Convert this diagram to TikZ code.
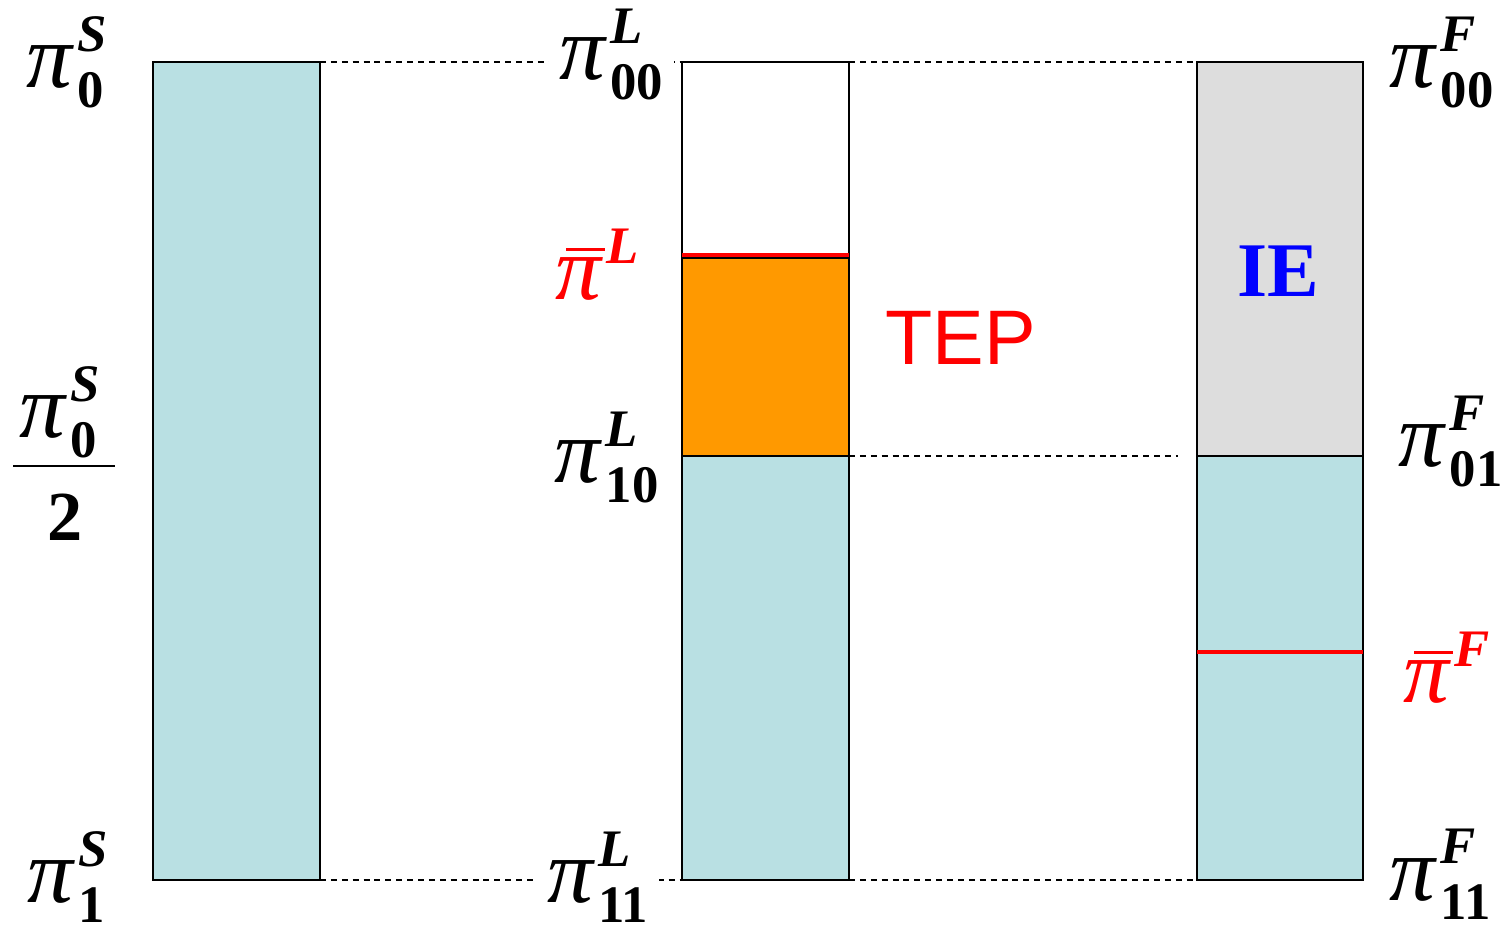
\documentclass[tikz,border=0pt]{standalone}
\usepackage{fontspec}
\setmainfont{Liberation Serif}
\newfontfamily\tepfont{Liberation Sans}
\usetikzlibrary{positioning}
\definecolor{barcyan}{RGB}{185,224,227}
\definecolor{barorange}{RGB}{255,153,0}
\definecolor{bargray}{RGB}{221,221,221}
\newcommand{\pifont}{\fontsize{26}{28}\selectfont\itshape}
\newcommand{\idxfont}{\fontsize{15}{17}\selectfont\bfseries}
\newcommand{\pilab}[2]{{\pifont π}\kern1.5pt\rlap{\raisebox{10.5pt}{\idxfont\itshape #1}}\raisebox{-5.5pt}{\idxfont #2}}
\newcommand{\pibar}[1]{{\pifont\rlap{\kern3pt\rule[13.8pt]{11pt}{0.9pt}}π}\kern1.5pt\raisebox{10.5pt}{\idxfont\itshape #1}}

\begin{document}
\begin{tikzpicture}[
    bar/.style={draw=black, line width=0.6pt},
    guide/.style={dash pattern=on 1.7pt off 1.4pt, line width=0.5pt},
    lab/.style={anchor=base west, inner sep=0pt},
    cutlab/.style={lab, fill=white, inner xsep=3pt},
  ]
  \useasboundingbox (0,0) rectangle (15.03,9.29);

  % corners used by the guides
  \coordinate (sNE) at (3.20,8.67);
  \coordinate (sSE) at (3.20,0.49);
  \coordinate (lNW) at (6.82,8.67);
  \coordinate (lNE) at (8.49,8.67);
  \coordinate (lSW) at (6.82,0.49);
  \coordinate (lSE) at (8.49,0.49);
  \coordinate (lMid) at (8.49,4.73);
  \coordinate (fNW) at (11.97,8.67);
  \coordinate (fSW) at (11.97,0.49);
  \coordinate (fGap) at (11.78,4.73);

  % S column
  \fill[barcyan] (1.53,0.49) rectangle (sNE);
  \draw[bar] (1.53,0.49) rectangle (sNE);

  % L column
  \fill[barorange] (6.82,4.73) rectangle (8.49,6.71);
  \fill[barcyan] (lSW) rectangle (lMid);
  \draw[bar] (lSW) rectangle (lNE);
  \draw[bar] (6.82,4.73) -- (lMid);
  \draw[bar] (6.82,6.71) -- (8.49,6.71);
  \draw[red, line width=0.9pt] (6.82,6.74) -- (8.49,6.74);

  % F column
  \fill[bargray] (11.97,4.73) rectangle (13.63,8.67);
  \fill[barcyan] (fSW) rectangle (13.63,4.73);
  \draw[bar] (fSW) rectangle (13.63,8.67);
  \draw[bar] (11.97,4.73) -- (13.63,4.73);
  \draw[red, line width=1.4pt] (11.97,2.77) -- (13.63,2.77);

  % guides
  \draw[guide] (sNE) -- (lNW);
  \draw[guide] (lNE) -- (fNW);
  \draw[guide] (lMid) -- (fGap);
  \draw[guide] (sSE) -- (lSW);
  \draw[guide] (lSE) -- (fSW);

  % S labels
  \node[lab] (s0) at (0.26,8.41) {\pilab{S}{0}};
  \node[lab] (halfnum) at (0.19,4.91) {\pilab{S}{0}};
  \coordinate (fracL) at (0.13,4.63);
  \coordinate (fracR) at (1.15,4.63);
  \draw[line width=0.85pt] (fracL) -- (fracR);
  \node[anchor=base, inner sep=0pt] (halfden) at (0.65,3.88) {\fontsize{20}{22}\selectfont\bfseries 2};
  \node[lab] (s1) at (0.27,0.26) {\pilab{S}{1}};

  % L labels
  \node[cutlab] (l00) at (5.48,8.49) {\pilab{L}{00}};
  \node[lab, text=red] (lbar) at (5.55,6.29) {\pibar{L}};
  \node[lab] (l10) at (5.54,4.46) {\pilab{L}{10}};
  \node[cutlab] (l11) at (5.36,0.26) {\pilab{L}{11}};
  \node[lab, text=red, font=\tepfont\fontsize{22}{24}\selectfont] (tep) at (8.85,5.64) {TEP};

  % F labels
  \node[lab, text=blue, anchor=base, font=\fontsize{22}{24}\selectfont\bfseries] (ie) at (12.78,6.32) {IE};
  \node[lab] (f00) at (13.89,8.41) {\pilab{F}{00}};
  \node[lab] (f01) at (13.98,4.62) {\pilab{F}{01}};
  \node[lab, text=red] (fbar) at (14.03,2.26) {\pibar{F}};
  \node[lab] (f11) at (13.89,0.29) {\pilab{F}{11}};
\end{tikzpicture}
\end{document}
